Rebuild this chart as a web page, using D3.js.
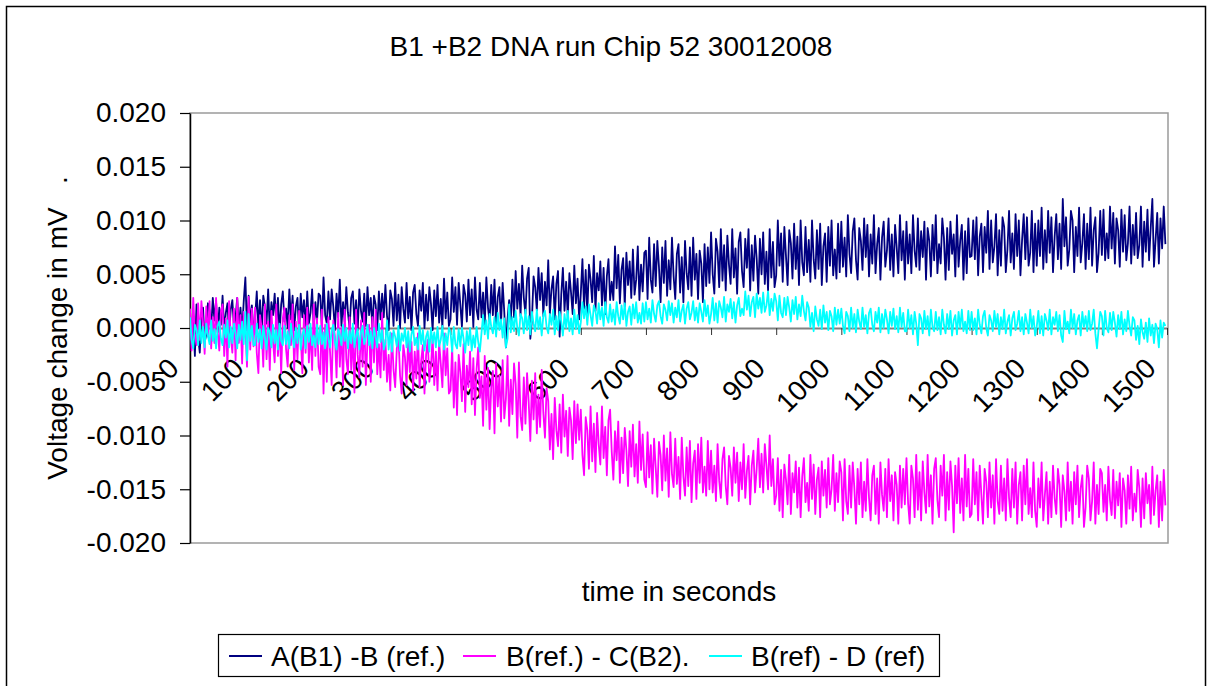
<!DOCTYPE html>
<html>
<head>
<meta charset="utf-8">
<script src="https://cdn.jsdelivr.net/npm/d3@7/dist/d3.min.js"></script>
<style>
  html, body { margin: 0; padding: 0; background: #ffffff; }
  svg { display: block; }
  text { font-family: "Liberation Sans", Arial, Helvetica, sans-serif; fill: #000; }
</style>
</head>
<body>
<svg id="chart" width="1212" height="686"></svg>
<script>
// ---------------- DATA ----------------
const chartTitle = "B1 +B2 DNA run Chip 52 30012008";
const xAxisTitle = "time in seconds";
const yAxisTitle = "Voltage change in mV   .";
const seriesNames = ["A(B1) -B (ref.)", "B(ref.) - C(B2).", "B(ref) - D (ref)"];
const seriesColors = ["#000080", "#FF00FF", "#00FFFF"];

// sampling interval of the recording, seconds
const sampleStep = 2.5;

// x-axis tick labels (seconds)
const xTickValues = [0,100,200,300,400,500,600,700,800,900,1000,1100,1200,1300,1400,1500];
const xTickLabels = ["0","100","200","300","400","500","600","700","800","900","1000","1100","1200","1300","1400","1500"];
// y-axis tick labels (mV)
const yTickValues = [-0.020,-0.015,-0.010,-0.005,0,0.005,0.010,0.015,0.020];
const yTickLabels = ["-0.020","-0.015","-0.010","-0.005","0.000","0.005","0.010","0.015","0.020"];

// series values, in units of 0.0001 mV, one row per 100 s (40 samples per row)
const seriesA = [
  17,-18,5,-26,22,-8,-23,10,19,-13,-6,23,16,-1,28,7,25,-4,19,3,30,-2,14,23,-6,17,26,1,10,28,-1,19,-4,25,47,-2,30,5,21,-6,
  10,34,0,26,-4,30,20,4,36,-2,24,12,32,2,28,-4,22,34,6,18,0,36,8,30,-2,20,28,-4,32,10,26,2,34,4,14,36,0,24,6,32,
  30,0,47,12,4,34,8,36,20,-2,32,10,45,2,24,6,38,14,0,28,34,4,26,-2,36,16,6,32,2,38,12,28,0,30,22,-2,34,8,32,10,
  40,11,-2,35,27,2,42,7,31,0,38,18,5,42,9,29,-2,33,40,13,2,35,16,42,0,31,7,38,22,-2,35,11,40,5,27,0,46,9,33,2,
  8,47,15,38,3,42,22,1,40,31,6,45,12,36,1,47,17,8,42,10,33,3,47,19,6,40,12,45,1,29,38,3,42,15,-18,8,26,6,45,10,
  53,18,41,11,58,28,13,46,56,-10,8,48,38,16,56,26,51,11,43,21,63,13,36,48,8,41,53,-8,31,56,16,43,11,51,33,13,58,23,46,8,
  32,64,18,54,13,59,45,24,67,16,51,35,62,21,56,13,48,64,26,43,26,76,37,68,23,54,65,20,70,40,62,28,73,31,45,76,26,59,34,70,
  72,27,84,45,33,78,39,81,57,24,75,42,81,30,63,36,84,48,27,69,78,33,66,24,81,51,36,75,30,84,45,69,27,72,60,24,78,39,75,42,
  89,50,32,83,71,38,92,44,77,35,86,59,41,92,47,74,32,80,89,53,38,83,56,92,35,77,44,86,65,32,83,50,89,41,71,35,92,47,80,38,
  49,100,58,88,43,94,67,40,91,79,46,97,55,85,40,100,61,49,94,52,82,43,100,64,46,91,55,97,40,76,88,43,94,58,100,49,73,46,97,52,
  99,57,84,48,105,69,51,90,102,63,45,93,81,54,102,66,96,48,87,60,105,51,78,93,45,84,99,57,72,102,54,87,48,96,75,51,105,63,90,45,
  99,60,87,51,105,72,57,102,54,90,66,99,45,93,81,48,96,63,105,51,78,60,102,84,45,93,54,99,69,87,48,105,57,81,96,45,90,51,102,66,
  67,100,64,103,49,85,97,52,94,70,109,55,100,61,76,106,49,91,58,103,94,52,73,109,61,88,55,106,67,100,49,82,106,64,103,58,70,109,52,97,
  58,100,67,112,55,91,61,109,70,103,52,85,106,64,97,55,120,76,103,58,73,109,100,52,94,67,112,61,79,106,55,97,64,112,58,91,103,52,70,109,
  68,110,63,88,65,113,74,107,60,102,91,57,110,71,105,63,79,113,60,96,68,107,65,77,113,57,99,71,110,63,93,120,57,82,107,60,102,74,113,78
];
const seriesB = [
  18,-21,28,-6,-16,23,-11,25,5,-24,20,-8,25,-19,10,-14,28,-3,-21,15,22,-26,9,-36,25,-7,-23,18,-30,28,-14,12,-33,15,2,-36,29,-20,18,-17,
  19,-23,-42,12,0,-36,22,-29,6,-39,16,-13,-32,22,-26,3,-42,9,19,-20,-36,12,-16,22,-39,6,-29,16,-7,-42,12,-23,19,-32,0,-39,22,-26,9,-36,
  -43,17,-61,3,-50,10,-22,-53,7,-8,-46,14,-36,0,-53,17,-29,-43,10,-39,-4,-60,17,-25,-46,7,-36,14,-53,-11,3,-50,10,-32,17,-43,-15,-46,14,-39,
  -11,-50,-25,-58,-5,-39,-55,-19,-8,-44,-61,-16,-27,-53,-8,-41,-13,-58,-22,-47,-5,-55,-30,-16,-61,-25,-11,-50,-36,-8,-53,-22,-58,-13,-33,-55,-5,-44,-19,-61,
  -58,-18,-74,-32,-81,-25,-41,-68,-15,-78,-35,-55,-22,-71,-28,-81,-38,-18,-65,-45,-91,-26,-76,-37,-94,-55,-40,-98,-33,-73,-44,-87,-30,-84,-66,-26,-91,-48,-80,-33,
  -52,-102,-32,-82,-95,-46,-89,-42,-69,-105,-49,-85,-42,-98,-62,-92,-39,-79,-102,-56,-68,-113,-80,-122,-65,-95,-110,-71,-116,-62,-101,-77,-119,-74,-86,-122,-68,-107,-71,-104,
  -76,-118,-137,-83,-95,-131,-73,-124,-89,-134,-79,-108,-127,-73,-121,-92,-137,-86,-76,-115,-141,-96,-123,-87,-144,-102,-135,-93,-114,-147,-96,-129,-90,-138,-108,-144,-87,-132,-99,-141,
  -148,-97,-139,-109,-154,-103,-130,-157,-106,-118,-151,-100,-142,-112,-157,-97,-136,-148,-103,-145,-120,-159,-102,-138,-156,-111,-147,-105,-162,-126,-114,-159,-108,-144,-102,-153,-129,-156,-105,-150,
  -114,-153,-128,-161,-108,-142,-158,-122,-111,-147,-164,-119,-130,-156,-111,-144,-116,-161,-125,-150,-108,-158,-133,-119,-164,-128,-114,-153,-131,-103,-148,-117,-153,-108,-128,-150,-100,-147,-122,-164,
  -156,-121,-170,-132,-176,-127,-141,-164,-118,-173,-135,-153,-124,-167,-130,-176,-138,-121,-162,-144,-170,-118,-159,-127,-173,-141,-130,-176,-124,-156,-132,-167,-121,-164,-150,-118,-170,-135,-162,-124,
  -134,-179,-122,-161,-173,-128,-167,-125,-149,-182,-131,-164,-125,-176,-143,-170,-122,-158,-179,-137,-128,-173,-140,-182,-125,-155,-170,-131,-176,-122,-161,-137,-179,-134,-146,-182,-128,-167,-131,-164,
  -121,-163,-182,-128,-140,-176,-118,-169,-134,-179,-124,-153,-172,-118,-166,-137,-182,-131,-121,-160,-176,-128,-156,-118,-179,-134,-169,-124,-147,-190,-128,-163,-121,-172,-140,-179,-118,-166,-131,-176,
  -173,-122,-164,-134,-179,-128,-155,-182,-131,-143,-176,-125,-167,-137,-182,-122,-161,-173,-128,-170,-140,-179,-122,-158,-176,-131,-167,-125,-182,-146,-134,-179,-128,-164,-122,-173,-149,-176,-125,-170,
  -185,-140,-167,-125,-179,-155,-134,-182,-143,-176,-128,-158,-173,-131,-146,-185,-137,-152,-179,-125,-170,-143,-182,-134,-164,-128,-176,-149,-137,-185,-167,-128,-140,-179,-161,-125,-182,-146,-173,-131,
  -135,-171,-146,-179,-129,-160,-174,-132,-177,-143,-165,-135,-185,-140,-151,-182,-137,-168,-129,-179,-154,-171,-132,-149,-185,-140,-177,-135,-163,-146,-182,-129,-174,-151,-137,-185,-143,-179,-132,-165
];
const seriesD = [
  10,-11,-19,3,-2,-16,7,-14,1,-18,4,-7,-15,7,-12,-1,-19,2,6,-10,-16,3,-9,7,-18,1,-14,4,-5,-19,3,-11,6,-15,15,-30,13,-12,2,-16,
  -16,4,-13,-1,-19,2,-9,-20,0,-4,-18,3,-14,-2,-20,4,-12,-16,2,-15,-3,-19,4,-10,-18,0,-14,3,-20,-6,-1,-19,2,-13,4,-16,-7,-18,3,-15,
  2,-15,-4,-19,4,-10,-18,-2,3,-13,-20,-1,-6,-16,3,-12,0,-19,-3,-14,4,-18,-7,-1,-20,-4,2,-15,-9,3,-16,-3,-19,0,-8,-18,4,-13,-2,-20,
  -14,7,-20,-4,-22,-2,-8,-17,2,-21,-5,-12,0,-18,-3,-22,-6,1,-16,-9,-20,2,-15,-2,-21,-8,-3,-22,0,-14,-4,-18,1,-17,-11,2,-20,-5,-16,0,
  -4,-22,1,-15,-19,-1,-17,0,-10,-23,-3,-16,0,-21,-7,-18,1,-13,-22,-5,12,-6,7,-10,13,1,-5,10,-8,14,-2,8,-9,9,-18,-10,22,-4,10,-3,
  16,0,-7,13,9,-5,17,-2,11,-6,15,4,-3,17,-1,10,-7,12,16,1,-5,13,3,17,-6,11,-2,15,6,-7,13,0,16,-3,9,-6,17,-1,12,-5,
  5,24,9,20,3,22,12,2,21,16,4,23,8,19,2,24,10,5,22,6,17,3,24,11,4,21,8,23,2,15,20,3,22,9,24,5,14,4,23,6,
  24,8,18,5,26,13,6,21,25,11,4,22,17,7,25,12,23,5,19,10,26,6,16,22,4,18,24,8,14,25,7,19,5,23,15,6,26,11,21,4,
  13,28,7,23,5,25,19,10,29,6,22,15,27,9,24,5,21,28,11,18,12,34,17,30,11,24,29,10,32,18,28,14,33,15,21,34,12,27,16,32,
  25,7,30,14,10,28,12,29,19,6,26,13,29,8,22,11,30,16,7,24,19,1,14,-3,20,8,2,17,-1,21,5,15,-2,16,11,-3,19,3,17,4,
  18,2,-5,15,11,-3,19,0,13,-4,17,6,-1,19,1,12,-5,14,18,3,-3,15,5,19,-4,13,0,17,8,-5,15,2,18,-1,11,-4,19,1,14,-3,
  -3,17,0,12,-6,15,4,-16,13,9,-5,16,-1,11,-7,17,1,-3,15,-2,10,-6,17,3,-5,13,-1,16,-7,7,12,-6,15,0,17,-3,6,-5,16,-2,
  15,-2,9,-6,17,3,-5,11,16,0,-7,12,7,-3,16,1,13,-6,10,-1,17,-5,6,12,-7,9,15,-2,4,16,-3,10,-6,13,5,-5,17,0,11,-7,
  1,16,-5,11,-7,13,7,-2,17,-6,10,3,15,-3,12,-7,-13,16,-1,6,-5,17,0,13,-6,7,12,-7,15,1,11,-3,16,-2,4,17,-5,-19,-1,15,
  11,-7,16,0,-4,14,-2,15,5,-8,12,-1,15,-6,8,-3,16,2,-7,10,7,-11,2,-15,8,-4,-10,5,-13,9,-7,3,-14,4,-1,-18,7,-9,5,2
];
const valueUnit = 0.0001; // mV per stored unit

// ---------------- LAYOUT ----------------
const svg = d3.select("#chart");
const plot = { left: 190, right: 1168, top: 113, bottom: 543 };
const fontSize = 28;

const x = d3.scaleLinear().domain([0, 1500]).range([plot.left, 1167]);
const y = d3.scaleLinear().domain([-0.02, 0.02]).range([plot.bottom, plot.top]);

// outer chart border
svg.append("rect")
  .attr("x", 6.5).attr("y", 6.5).attr("width", 1199).attr("height", 700)
  .attr("fill", "#fff").attr("stroke", "#000").attr("stroke-width", 1.5);

// plot area border (grey)
svg.append("rect")
  .attr("x", plot.left).attr("y", plot.top)
  .attr("width", plot.right - plot.left).attr("height", plot.bottom - plot.top)
  .attr("fill", "#fff").attr("stroke", "#9a9a9a").attr("stroke-width", 1.5);

// title
svg.append("text")
  .attr("x", 611).attr("y", 56)
  .attr("text-anchor", "middle")
  .style("font-size", fontSize + "px")
  .text(chartTitle);

// x axis (at y = 0)
const xAxis = d3.axisBottom(x)
  .tickValues(xTickValues)
  .tickFormat((d, i) => xTickLabels[i])
  .tickSize(7)
  .tickSizeOuter(0);
const gx = svg.append("g")
  .attr("transform", `translate(0,${y(0)})`)
  .call(xAxis);
gx.select(".domain").attr("stroke", "#808080").attr("stroke-width", 2);
gx.selectAll(".tick line").attr("stroke", "#333");
gx.selectAll(".tick text")
  .attr("x", 0).attr("y", 0).attr("dy", 0)
  .attr("text-anchor", "end")
  .attr("transform", "translate(-10,42) rotate(-45)")
  .style("font-size", fontSize + "px")
  .style("font-family", "'Liberation Sans', Arial, sans-serif")
  .attr("fill", "#000");

// y axis
const yAxis = d3.axisLeft(y)
  .tickValues(yTickValues)
  .tickFormat((d, i) => yTickLabels[i])
  .tickSize(10)
  .tickPadding(14)
  .tickSizeOuter(0);
const gy = svg.append("g")
  .attr("transform", `translate(${plot.left},0)`)
  .call(yAxis);
gy.select(".domain").attr("stroke", "#000").attr("stroke-width", 1.5);
gy.selectAll(".tick line").attr("stroke", "#000").attr("stroke-width", 1.2);
gy.selectAll(".tick text")
  .style("font-size", fontSize + "px")
  .style("font-family", "'Liberation Sans', Arial, sans-serif")
  .attr("fill", "#000");

// series
svg.append("clipPath").attr("id", "plotclip")
  .append("rect").attr("x", plot.left).attr("y", plot.top)
  .attr("width", plot.right - plot.left).attr("height", plot.bottom - plot.top);

const allSeries = [seriesA, seriesB, seriesD].map((vals, k) => ({
  name: seriesNames[k],
  color: seriesColors[k],
  points: vals.map((v, i) => ({ t: i * sampleStep, v: v * valueUnit }))
}));

const line = d3.line().x(d => x(d.t)).y(d => y(d.v));
svg.append("g").attr("clip-path", "url(#plotclip)")
  .selectAll("path").data(allSeries).join("path")
  .attr("d", d => line(d.points))
  .attr("fill", "none")
  .attr("stroke", d => d.color)
  .attr("stroke-width", 1.8)
  .attr("stroke-linejoin", "round");

// axis titles
svg.append("text")
  .attr("transform", `translate(67,${(plot.top + plot.bottom) / 2}) rotate(-90)`)
  .attr("text-anchor", "middle")
  .style("font-size", fontSize + "px")
  .style("white-space", "pre")
  .text(yAxisTitle);

svg.append("text")
  .attr("x", 679).attr("y", 601)
  .attr("text-anchor", "middle")
  .style("font-size", fontSize + "px")
  .text(xAxisTitle);

// legend
const legend = svg.append("g");
legend.append("rect")
  .attr("x", 218.5).attr("y", 634.5).attr("width", 721).attr("height", 42)
  .attr("fill", "#fff").attr("stroke", "#000").attr("stroke-width", 1.2);
const legendLineX = [229, 463, 709];
const legendTextX = [271, 506, 751];
allSeries.forEach((s, k) => {
  legend.append("line")
    .attr("x1", legendLineX[k]).attr("x2", legendLineX[k] + 33)
    .attr("y1", 656).attr("y2", 656)
    .attr("stroke", s.color).attr("stroke-width", 2);
  legend.append("text")
    .attr("x", legendTextX[k]).attr("y", 666)
    .style("font-size", fontSize + "px")
    .text(s.name);
});
</script>
</body>
</html>
